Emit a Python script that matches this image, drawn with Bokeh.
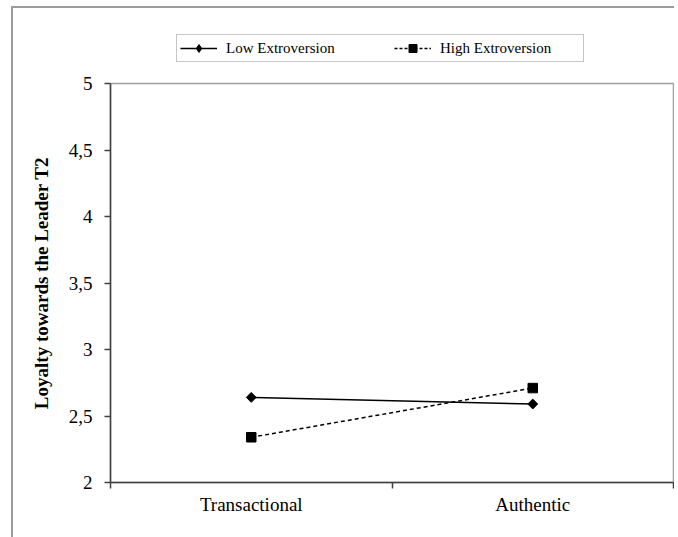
import numpy as np
from bokeh.plotting import figure
from bokeh.layouts import column
from bokeh.models import FixedTicker, Legend, LegendItem, Range1d
from bokeh.embed import file_html
from bokeh.resources import INLINE

# ---- data ----
categories = ["Transactional", "Authentic"]
low_extroversion = [2.64, 2.59]
high_extroversion = [2.34, 2.71]
series_names = ["Low Extroversion", "High Extroversion"]
y_ticks = [2, 2.5, 3, 3.5, 4, 4.5, 5]
y_tick_labels = ["2", "2,5", "3", "3,5", "4", "4,5", "5"]
y_axis_title = "Loyalty towards the Leader T2"

x_pos = [i + 0.5 for i in range(len(categories))]
x_bounds = [float(i) for i in range(len(categories) + 1)]

FONT = "Liberation Serif"
AXIS_COLOR = "#404040"
W = 661

# ---- legend strip (its own small figure, so the legend sits above the chart) ----
# its renderers carry the real series but lie outside this strip's visible range
lf = figure(width=W, height=63, output_backend="svg", toolbar_location=None,
            x_axis_type=None, y_axis_type=None,
            x_range=Range1d(0, len(categories)), y_range=Range1d(-10, -9),
            min_border_left=0, min_border_right=0, min_border_top=0, min_border_bottom=0)
lf.title.visible = False
lf.grid.visible = False
lf.outline_line_color = None
lf.background_fill_color = "white"
lf.border_fill_color = "white"
ll1 = lf.line(x_pos, low_extroversion, line_color="black", line_width=1.5)
ls1 = lf.scatter(x_pos, low_extroversion, marker="diamond", size=10,
                 fill_color="black", line_color="black")
ll2 = lf.line(x_pos, high_extroversion, line_color="black", line_width=1.5, line_dash="3 2")
ls2 = lf.scatter(x_pos, high_extroversion, marker="square", size=9,
                 fill_color="black", line_color="black")

legend = Legend(items=[LegendItem(label=series_names[0], renderers=[ll1, ls1]),
                       LegendItem(label=series_names[1], renderers=[ll2, ls2])],
                orientation="horizontal", location=(66, 9),
                label_text_font=FONT, label_text_font_size="15px", label_text_color="black",
                label_height=15, glyph_height=20, glyph_width=37, label_standoff=9,
                label_width=140, spacing=28, padding=3, margin=0,
                border_line_color="#8c8c8c", border_line_width=1,
                background_fill_color="white", background_fill_alpha=1.0)
lf.add_layout(legend, "center")

# ---- main chart ----
p = figure(width=W, height=466, output_backend="svg", toolbar_location=None,
           x_range=Range1d(0, len(categories)), y_range=Range1d(2, 5),
           min_border_left=97, min_border_right=1, min_border_top=12,
           min_border_bottom=55)
p.title.visible = False
p.grid.visible = False
p.background_fill_color = "white"
p.border_fill_color = "white"
p.outline_line_color = "#a0a0a0"
p.outline_line_width = 1.5

# x axis: labels at category centres, tick marks at category boundaries
xa = p.xaxis[0]
xa.ticker = FixedTicker(ticks=x_pos, minor_ticks=x_bounds)
xa.major_label_overrides = {x: c for x, c in zip(x_pos, categories)}
xa.major_tick_line_color = None
xa.major_tick_out = 0
xa.major_tick_in = 0
xa.minor_tick_line_color = AXIS_COLOR
xa.minor_tick_line_width = 1.5
xa.minor_tick_out = 6
xa.minor_tick_in = 0
xa.major_label_standoff = 5
xa.axis_line_color = AXIS_COLOR
xa.axis_line_width = 1.5
xa.major_label_text_font = FONT
xa.major_label_text_font_size = "19px"
xa.major_label_text_color = "black"

ya = p.yaxis[0]
ya.ticker = FixedTicker(ticks=y_ticks, minor_ticks=[])
ya.major_label_overrides = {t: s for t, s in zip(y_ticks, y_tick_labels)}
ya.major_tick_out = 6
ya.major_tick_in = 0
ya.major_tick_line_color = AXIS_COLOR
ya.major_tick_line_width = 1.5
ya.minor_tick_line_color = None
ya.major_label_standoff = 12
ya.axis_line_color = AXIS_COLOR
ya.axis_line_width = 1.5
ya.major_label_text_font = FONT
ya.major_label_text_font_size = "19px"
ya.major_label_text_color = "black"
ya.axis_label = y_axis_title
ya.axis_label_text_font = FONT
ya.axis_label_text_font_size = "19px"
ya.axis_label_text_font_style = "bold"
ya.axis_label_text_color = "black"
ya.axis_label_standoff = 14

# series
p.line(x_pos, low_extroversion, line_color="black", line_width=1.5)
p.scatter(x_pos, low_extroversion, marker="square", size=7, angle=np.pi / 4,
          fill_color="black", line_color="black")
p.line(x_pos, high_extroversion, line_color="black", line_width=1.5, line_dash="4 3")
p.scatter(x_pos, high_extroversion, marker="square", size=9.5,
          fill_color="black", line_color="black")

layout = column(lf, p, spacing=0)
layout.styles = {"margin-left": "11px", "margin-top": "6px",
                 "border-left": "2px solid #9c9c9c", "border-top": "2px solid #9c9c9c"}

open("out.html", "w").write(file_html(layout, INLINE))
